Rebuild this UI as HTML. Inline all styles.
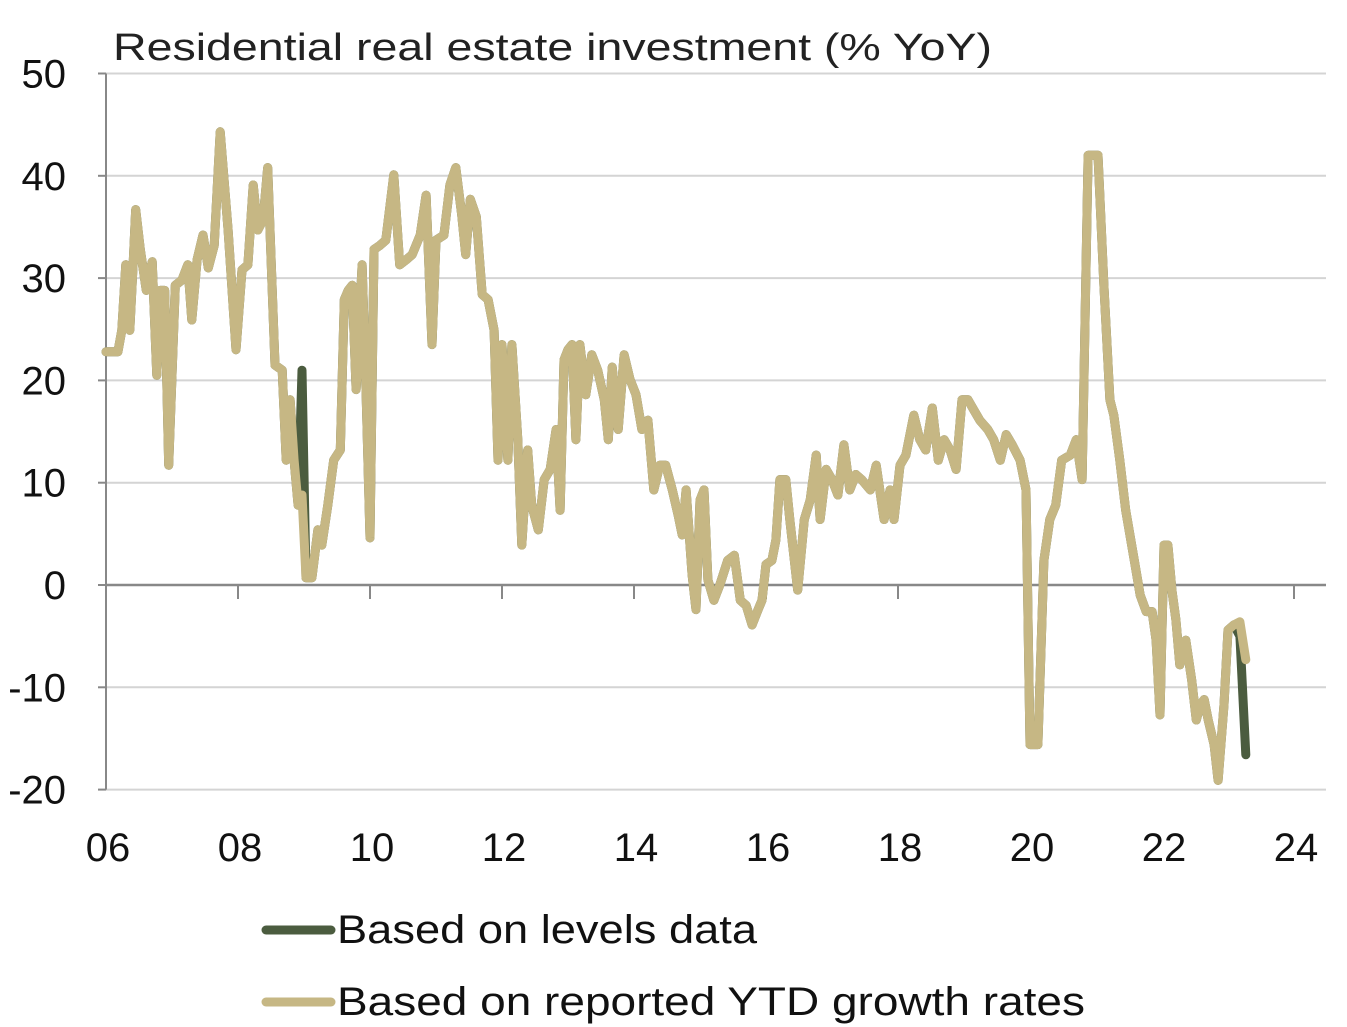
<!DOCTYPE html>
<html><head><meta charset="utf-8"><style>
html,body{margin:0;padding:0;background:#fff;}
svg{display:block;font-family:"Liberation Sans","DejaVu Sans",sans-serif;}
</style></head><body>
<svg id="chart" width="1347" height="1027" viewBox="0 0 1347 1027" xmlns="http://www.w3.org/2000/svg">
<text x="113" y="60" font-size="38" fill="#222" textLength="879" lengthAdjust="spacingAndGlyphs">Residential real estate investment (% YoY)</text>
<g id="grid"></g>
<g id="axes"></g>
<g id="series"></g>
<g>
<line x1="266" y1="930" x2="331" y2="930" stroke="#4b5c3f" stroke-width="9" stroke-linecap="round"/>
<text x="337" y="943" font-size="40" fill="#111" textLength="420" lengthAdjust="spacingAndGlyphs">Based on levels data</text>
<line x1="266" y1="1002" x2="331" y2="1002" stroke="#c6b784" stroke-width="9" stroke-linecap="round"/>
<text x="337" y="1015" font-size="40" fill="#111" textLength="748" lengthAdjust="spacingAndGlyphs">Based on reported YTD growth rates</text>
</g>
</svg>
<script>
const yTicks = [50,40,30,20,10,0,-10,-20];
const xTickLabels = ["06","08","10","12","14","16","18","20","22","24"];
const xTickYears = [2006,2008,2010,2012,2014,2016,2018,2020,2022,2024];
const years = [2006.00,2006.18,2006.24,2006.30,2006.36,2006.41,2006.45,2006.52,2006.61,2006.70,2006.77,2006.82,2006.89,2006.95,2007.05,2007.15,2007.24,2007.30,2007.38,2007.47,2007.55,2007.64,2007.73,2007.85,2007.97,2008.06,2008.15,2008.23,2008.30,2008.38,2008.45,2008.56,2008.67,2008.73,2008.79,2008.85,2008.91,2008.97,2009.03,2009.12,2009.21,2009.27,2009.36,2009.45,2009.55,2009.61,2009.67,2009.73,2009.79,2009.88,2009.94,2010.00,2010.06,2010.15,2010.24,2010.36,2010.45,2010.55,2010.64,2010.76,2010.85,2010.94,2011.00,2011.12,2011.21,2011.30,2011.39,2011.45,2011.52,2011.61,2011.70,2011.79,2011.88,2011.94,2012.00,2012.09,2012.15,2012.24,2012.30,2012.39,2012.45,2012.55,2012.64,2012.73,2012.82,2012.88,2012.94,2013.00,2013.06,2013.12,2013.18,2013.27,2013.36,2013.45,2013.55,2013.61,2013.67,2013.76,2013.85,2013.94,2014.03,2014.12,2014.21,2014.30,2014.39,2014.48,2014.58,2014.67,2014.73,2014.79,2014.88,2014.94,2015.00,2015.06,2015.12,2015.21,2015.30,2015.42,2015.52,2015.61,2015.70,2015.79,2015.88,2015.94,2016.00,2016.09,2016.15,2016.21,2016.30,2016.36,2016.48,2016.58,2016.67,2016.76,2016.82,2016.91,2017.00,2017.09,2017.18,2017.27,2017.36,2017.45,2017.58,2017.67,2017.79,2017.88,2017.94,2018.03,2018.12,2018.24,2018.33,2018.42,2018.52,2018.61,2018.70,2018.79,2018.88,2018.97,2019.06,2019.15,2019.24,2019.36,2019.45,2019.55,2019.64,2019.73,2019.85,2019.94,2020.00,2020.12,2020.21,2020.30,2020.39,2020.48,2020.61,2020.70,2020.79,2020.88,2021.03,2021.12,2021.21,2021.27,2021.36,2021.45,2021.58,2021.67,2021.76,2021.85,2021.91,2021.97,2022.03,2022.09,2022.15,2022.21,2022.27,2022.36,2022.45,2022.52,2022.58,2022.64,2022.70,2022.79,2022.85,2022.94,2023.00,2023.09,2023.18,2023.27];
const ytdValues = [22.8,22.8,24.9,31.3,24.9,31.3,36.7,32.8,28.8,31.6,20.5,28.8,28.8,11.7,29.3,29.8,31.3,25.9,31.8,34.2,31.0,33.2,44.3,34.7,23.0,30.8,31.3,39.1,34.7,35.7,40.8,21.5,21.0,12.2,18.1,12.2,7.8,8.8,0.7,0.7,5.4,3.9,7.8,12.2,13.2,27.9,28.8,29.3,19.1,31.3,19.1,4.6,32.8,33.2,33.7,40.1,31.3,31.8,32.3,34.2,38.1,23.5,33.7,34.2,39.1,40.8,36.2,32.3,37.7,36.0,28.4,27.9,24.9,12.2,23.5,12.2,23.5,14.2,3.9,13.2,7.8,5.4,10.3,11.3,15.2,7.3,22.0,23.0,23.5,14.2,23.5,18.6,22.5,21.0,18.1,14.2,21.3,15.2,22.5,20.1,18.6,15.2,16.1,9.3,11.7,11.7,9.3,6.8,4.9,9.3,1.0,-2.4,8.3,9.3,0.5,-1.5,0,2.4,2.9,-1.5,-2.0,-3.9,-2.4,-1.5,2.0,2.4,4.4,10.3,10.3,6.4,-0.5,6.4,8.3,12.7,6.4,11.3,10.3,8.8,13.7,9.3,10.8,10.3,9.3,11.7,6.4,9.3,6.4,11.7,12.7,16.6,14.2,13.2,17.3,12.2,14.2,13.2,11.3,18.1,18.1,17.1,16.1,15.2,14.2,12.2,14.7,13.7,12.2,9.3,-15.6,-15.6,2.4,6.4,7.8,12.2,12.7,14.2,10.3,42.0,42.0,29.3,18.1,16.6,12.2,7.3,2.4,-1.0,-2.6,-2.6,-5.4,-12.7,3.9,3.9,-0.5,-3.4,-7.8,-5.4,-9.3,-13.2,-11.7,-11.2,-13.2,-15.6,-19.1,-11.7,-4.4,-3.9,-3.6,-7.3];
const levelsValues = ytdValues.slice();
const levelsDiffYears = [2008.97, 2023.18, 2023.27];
const levelsDiffValues = [21.0, -5.0, -16.6];
levelsDiffYears.forEach((yr,i)=>{const k=years.indexOf(yr); if(k>=0) levelsValues[k]=levelsDiffValues[i];});

const NS="http://www.w3.org/2000/svg";
const X0=106, X1=1326;
function xScale(yr){return 106+(yr-2006)*66;}
function yScale(v){return 585-v*10.23;}
function mk(tag,attrs,parent){const e=document.createElementNS(NS,tag);for(const k in attrs)e.setAttribute(k,attrs[k]);parent.appendChild(e);return e;}
const grid=document.getElementById('grid'), axes=document.getElementById('axes'), series=document.getElementById('series');
yTicks.forEach(v=>{
  if(v!==0){
    const g=mk('line',{x1:X0,x2:X1,y1:yScale(v),y2:yScale(v),stroke:'#d4d4d4','stroke-width':2},grid);
    
    
  }
  const tk=mk('line',{x1:X0-8,x2:X0,y1:yScale(v),y2:yScale(v),stroke:'#888','stroke-width':2},axes);
  
  
  const t=mk('text',{x:66,y:yScale(v)+14,'text-anchor':'end','font-size':40,fill:'#111'},axes);
  
  
  t.textContent=v;
});
const ya=mk('line',{x1:X0,x2:X0,y1:yScale(50),y2:yScale(-20),stroke:'#888','stroke-width':2},axes);


const xa=mk('line',{x1:X0,x2:X1,y1:yScale(0),y2:yScale(0),stroke:'#888','stroke-width':2.5},axes);


xTickYears.forEach((yr,i)=>{
  if(i>0){
    const tk=mk('line',{x1:xScale(yr),x2:xScale(yr),y1:yScale(0),y2:yScale(0)+14,stroke:'#888','stroke-width':2},axes);
    
    
  }
  const t=mk('text',{x:xScale(yr)+2,y:861,'text-anchor':'middle','font-size':40,fill:'#111'},axes);
  
  
  t.textContent=xTickLabels[i];
});
function pathFor(vals){return years.map((yr,i)=>(i?'L':'M')+xScale(yr).toFixed(1)+','+yScale(vals[i]).toFixed(1)).join('');}
const pl=mk('path',{d:pathFor(levelsValues),fill:'none',stroke:'#4b5c3f','stroke-width':9,'stroke-linejoin':'round','stroke-linecap':'round'},series);


const py=mk('path',{d:pathFor(ytdValues),fill:'none',stroke:'#c6b784','stroke-width':9,'stroke-linejoin':'round','stroke-linecap':'round'},series);


</script>
</body></html>
